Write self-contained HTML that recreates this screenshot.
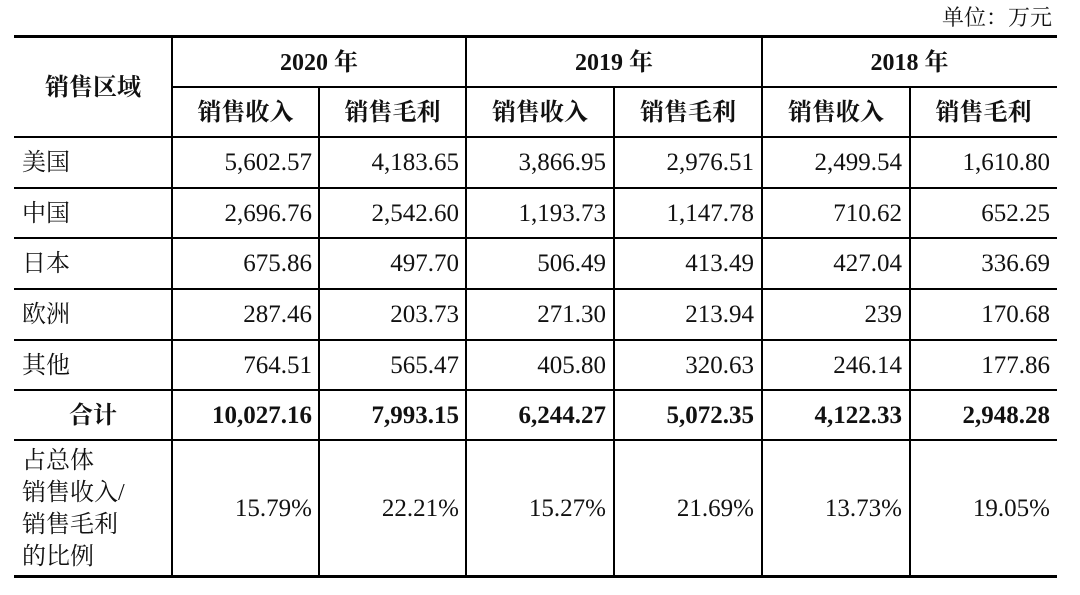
<!DOCTYPE html>
<html><head><meta charset="utf-8"><style>
body{margin:0;width:1080px;height:595px;background:#fff;position:relative;overflow:hidden;font-family:"Liberation Serif","Noto Serif CJK SC",serif;color:#111}
.l{position:absolute;background:#000}
.t{position:absolute;font-size:24px;line-height:30px;white-space:nowrap}
.n{position:absolute;font-size:25px;line-height:30px;white-space:nowrap;text-align:right}
.c{text-align:center}
.b{font-weight:bold}
</style></head><body>
<div class="t" style="right:28px;top:3px;font-size:22px">单位：万元</div>
<div class="l" style="left:14px;top:35px;width:1043px;height:3px"></div>
<div class="l" style="left:14px;top:575px;width:1043px;height:3px"></div>
<div class="l" style="left:172px;top:86px;width:885px;height:2px"></div>
<div class="l" style="left:14px;top:136px;width:1043px;height:2px"></div>
<div class="l" style="left:14px;top:187px;width:1043px;height:2px"></div>
<div class="l" style="left:14px;top:237px;width:1043px;height:2px"></div>
<div class="l" style="left:14px;top:288px;width:1043px;height:2px"></div>
<div class="l" style="left:14px;top:339px;width:1043px;height:2px"></div>
<div class="l" style="left:14px;top:389px;width:1043px;height:2px"></div>
<div class="l" style="left:14px;top:439px;width:1043px;height:2px"></div>
<div class="l" style="left:171px;top:37px;width:2px;height:540px"></div>
<div class="l" style="left:318px;top:87px;width:2px;height:490px"></div>
<div class="l" style="left:465px;top:37px;width:2px;height:540px"></div>
<div class="l" style="left:613px;top:87px;width:2px;height:490px"></div>
<div class="l" style="left:761px;top:37px;width:2px;height:540px"></div>
<div class="l" style="left:909px;top:87px;width:2px;height:490px"></div>

<div class="t c b" style="left:14px;width:158px;top:73px">销售区域</div>
<div class="t c b" style="left:172px;width:294px;top:48px">2020 年</div>
<div class="t c b" style="left:466px;width:296px;top:48px">2019 年</div>
<div class="t c b" style="left:762px;width:295px;top:48px">2018 年</div>
<div class="t c b" style="left:172px;width:147px;top:98px">销售收入</div>
<div class="t c b" style="left:319px;width:147px;top:98px">销售毛利</div>
<div class="t c b" style="left:466px;width:148px;top:98px">销售收入</div>
<div class="t c b" style="left:614px;width:148px;top:98px">销售毛利</div>
<div class="t c b" style="left:762px;width:148px;top:98px">销售收入</div>
<div class="t c b" style="left:910px;width:147px;top:98px">销售毛利</div>

<div class="t" style="left:22px;top:148px">美国</div>
<div class="t" style="left:22px;top:199px">中国</div>
<div class="t" style="left:22px;top:249px">日本</div>
<div class="t" style="left:22px;top:300px">欧洲</div>
<div class="t" style="left:22px;top:351px">其他</div>
<div class="t c b" style="left:14px;width:158px;top:401px">合计</div>
<div class="t" style="left:22px;top:445px;line-height:32px">占总体<br>销售收入/<br>销售毛利<br>的比例</div>

<div class="n" style="right:768px;top:148px">5,602.57</div>
<div class="n" style="right:621px;top:148px">4,183.65</div>
<div class="n" style="right:474px;top:148px">3,866.95</div>
<div class="n" style="right:326px;top:148px">2,976.51</div>
<div class="n" style="right:178px;top:148px">2,499.54</div>
<div class="n" style="right:30px;top:148px">1,610.80</div>

<div class="n" style="right:768px;top:199px">2,696.76</div>
<div class="n" style="right:621px;top:199px">2,542.60</div>
<div class="n" style="right:474px;top:199px">1,193.73</div>
<div class="n" style="right:326px;top:199px">1,147.78</div>
<div class="n" style="right:178px;top:199px">710.62</div>
<div class="n" style="right:30px;top:199px">652.25</div>

<div class="n" style="right:768px;top:249px">675.86</div>
<div class="n" style="right:621px;top:249px">497.70</div>
<div class="n" style="right:474px;top:249px">506.49</div>
<div class="n" style="right:326px;top:249px">413.49</div>
<div class="n" style="right:178px;top:249px">427.04</div>
<div class="n" style="right:30px;top:249px">336.69</div>

<div class="n" style="right:768px;top:300px">287.46</div>
<div class="n" style="right:621px;top:300px">203.73</div>
<div class="n" style="right:474px;top:300px">271.30</div>
<div class="n" style="right:326px;top:300px">213.94</div>
<div class="n" style="right:178px;top:300px">239</div>
<div class="n" style="right:30px;top:300px">170.68</div>

<div class="n" style="right:768px;top:351px">764.51</div>
<div class="n" style="right:621px;top:351px">565.47</div>
<div class="n" style="right:474px;top:351px">405.80</div>
<div class="n" style="right:326px;top:351px">320.63</div>
<div class="n" style="right:178px;top:351px">246.14</div>
<div class="n" style="right:30px;top:351px">177.86</div>

<div class="n b" style="right:768px;top:401px">10,027.16</div>
<div class="n b" style="right:621px;top:401px">7,993.15</div>
<div class="n b" style="right:474px;top:401px">6,244.27</div>
<div class="n b" style="right:326px;top:401px">5,072.35</div>
<div class="n b" style="right:178px;top:401px">4,122.33</div>
<div class="n b" style="right:30px;top:401px">2,948.28</div>

<div class="n" style="right:768px;top:494px">15.79%</div>
<div class="n" style="right:621px;top:494px">22.21%</div>
<div class="n" style="right:474px;top:494px">15.27%</div>
<div class="n" style="right:326px;top:494px">21.69%</div>
<div class="n" style="right:178px;top:494px">13.73%</div>
<div class="n" style="right:30px;top:494px">19.05%</div>
</body></html>
